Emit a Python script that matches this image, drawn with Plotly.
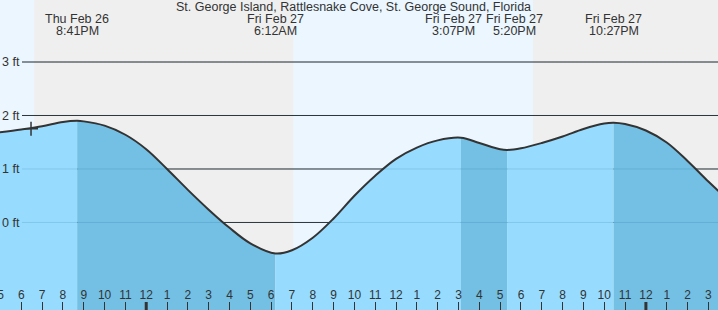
import plotly.graph_objects as go
import pandas as pd

# ---------------- data ----------------
title_text = "St. George Island, Rattlesnake Cove, St. George Sound, Florida"

tide_times = [
    "2026-02-26 16:58", "2026-02-26 18:00", "2026-02-26 19:00", "2026-02-26 20:00",
    "2026-02-26 20:41", "2026-02-26 21:00", "2026-02-26 22:00", "2026-02-26 23:00",
    "2026-02-27 00:00", "2026-02-27 01:00", "2026-02-27 02:00", "2026-02-27 03:00",
    "2026-02-27 04:00", "2026-02-27 05:00", "2026-02-27 06:12",
    "2026-02-27 07:00", "2026-02-27 08:00", "2026-02-27 09:00", "2026-02-27 10:00",
    "2026-02-27 11:00", "2026-02-27 12:00", "2026-02-27 13:00", "2026-02-27 14:00",
    "2026-02-27 15:07", "2026-02-27 16:00", "2026-02-27 17:00",
    "2026-02-27 17:20", "2026-02-27 18:00", "2026-02-27 19:00", "2026-02-27 20:00",
    "2026-02-27 21:00", "2026-02-27 22:00", "2026-02-27 22:27", "2026-02-27 23:00",
    "2026-02-28 00:00", "2026-02-28 01:00", "2026-02-28 02:00", "2026-02-28 03:00",
    "2026-02-28 03:29",
]
tide_heights = [
    1.685, 1.74, 1.80, 1.88,
    1.90, 1.89, 1.81, 1.64,
    1.37, 1.00, 0.61, 0.24,
    -0.10, -0.39, -0.58,
    -0.52, -0.286, 0.075, 0.50,
    0.875, 1.19, 1.40, 1.535,
    1.585, 1.486, 1.368,
    1.355, 1.387, 1.486, 1.607,
    1.748, 1.85, 1.865, 1.84,
    1.72, 1.495, 1.15, 0.766,
    0.59,
]

extreme_times = ["2026-02-26 20:41", "2026-02-27 06:12", "2026-02-27 15:07",
                 "2026-02-27 17:20", "2026-02-27 22:27"]
extreme_types = ["H", "L", "H", "L", "H"]
extreme_dates = ["Thu Feb 26", "Fri Feb 27", "Fri Feb 27", "Fri Feb 27", "Fri Feb 27"]
extreme_clock = ["8:41PM", "6:12AM", "3:07PM", "5:20PM", "10:27PM"]

now_time = "2026-02-26 18:28"
now_height = 1.75

sunset_times = ["2026-02-26 18:37", "2026-02-27 18:35"]
sunrise_times = ["2026-02-27 07:04", "2026-02-28 07:03"]

grid_ft = [0, 1, 2, 3]
grid_labels = ["0 ft", "1 ft", "2 ft", "3 ft"]

tick_times = list(pd.date_range("2026-02-26 17:00", "2026-02-28 03:00", freq="h"))
tick_labels = ["5", "6", "7", "8", "9", "10", "11",
               "12", "1", "2", "3", "4", "5", "6", "7", "8", "9", "10", "11",
               "12", "1", "2", "3", "4", "5", "6", "7", "8", "9", "10", "11",
               "12", "1", "2", "3"]
midnights = ["2026-02-27 00:00", "2026-02-28 00:00"]

x_range = ["2026-02-26 16:58:37", "2026-02-28 03:27:47"]
y_range = [-1.636, 4.159]

# ---------------- styles ----------------
FONT = "Liberation Sans, Arial, sans-serif"
TXT = "#333333"
DAY = "#ebf6ff"
NIGHT = "#efefef"
RISE = "#97dcfe"
FALL = "#73c0e4"
W, H = 718, 310

fig = go.Figure()

# fills between extremes
ext_idx = [tide_times.index(t) for t in extreme_times]
bounds = [0] + ext_idx + [len(tide_times) - 1]
for k in range(len(bounds) - 1):
    a, b = bounds[k], bounds[k + 1]
    if k < len(extreme_types):
        color = RISE if extreme_types[k] == "H" else FALL
    else:
        color = FALL if extreme_types[-1] == "H" else RISE
    xs = tide_times[a:b + 1]
    ys = tide_heights[a:b + 1]
    fig.add_trace(go.Scatter(x=[xs[0], xs[-1]], y=[y_range[0] - 0.2] * 2,
                             mode="lines", line=dict(width=0), hoverinfo="skip"))
    fig.add_trace(go.Scatter(x=xs, y=ys, mode="lines", fill="tonexty",
                             fillcolor=color, line=dict(width=0, shape="spline"),
                             hoverinfo="skip"))

# tide curve
fig.add_trace(go.Scatter(x=tide_times, y=tide_heights, mode="lines",
                         line=dict(color=TXT, width=2, shape="spline")))
# current time marker
fig.add_trace(go.Scatter(x=[now_time], y=[now_height], mode="markers",
                         marker=dict(symbol="cross-thin", size=10,
                                     line=dict(color=TXT, width=1.5))))
# invisible trace to carry the label axis
fig.add_trace(go.Scatter(x=[tide_times[0]], y=[grid_ft[0]], yaxis="y2", mode="markers",
                         marker=dict(opacity=0), hoverinfo="skip"))

shapes = []
for s, r in zip(sunset_times, sunrise_times):
    shapes.append(dict(type="rect", xref="x", yref="paper", x0=s, x1=r, y0=0, y1=1,
                       fillcolor=NIGHT, line=dict(width=0), layer="below"))
for g in grid_ft:
    shapes.append(dict(type="line", xref="paper", yref="y", x0=22 / W, x1=1, y0=g, y1=g,
                       line=dict(color=TXT, width=1), layer="below"))
    shapes.append(dict(type="line", xref="paper", yref="y", x0=22 / W, x1=1, y0=g, y1=g,
                       line=dict(color="rgba(0,80,130,0.14)", width=1), layer="above"))
for m in midnights:
    shapes.append(dict(type="line", xref="x", yref="paper", x0=m, x1=m, y0=0, y1=8 / H,
                       line=dict(color=TXT, width=3), layer="above"))

annotations = [dict(text=title_text, xref="paper", yref="paper", x=353 / W, y=1 - 7.5 / H,
                    xanchor="center", yanchor="middle", showarrow=False,
                    font=dict(family=FONT, size=12.5, color=TXT))]
shifts = [0, 0, -7, 7, 0]
for t, d, c, sh in zip(extreme_times, extreme_dates, extreme_clock, shifts):
    for txt, yy in ((d, 19.5), (c, 31)):
        annotations.append(dict(text=txt, xref="x", yref="paper", x=t, y=1 - yy / H,
                                xanchor="center", yanchor="middle", showarrow=False,
                                xshift=sh, font=dict(family=FONT, size=12.5, color=TXT)))

fig.update_layout(
    width=W, height=H, margin=dict(l=0, r=0, t=0, b=0, pad=0, autoexpand=False),
    paper_bgcolor=DAY, plot_bgcolor=DAY, showlegend=False,
    shapes=shapes, annotations=annotations,
    font=dict(family=FONT, color=TXT),
    xaxis=dict(type="date", range=x_range, tickvals=tick_times, ticktext=tick_labels,
               ticks="inside", ticklen=8, tickwidth=1, tickcolor=TXT,
               ticklabelposition="inside", ticklabeloverflow="allow",
               tickfont=dict(family=FONT, size=12, color=TXT), automargin=False,
               showgrid=False, zeroline=False, showline=False, fixedrange=True),
    yaxis=dict(range=y_range, showticklabels=False, ticks="", automargin=False,
               showgrid=False, zeroline=False, showline=False, fixedrange=True),
    yaxis2=dict(range=y_range, overlaying="y", side="left", anchor="free", position=0,
                tickvals=grid_ft, ticktext=grid_labels, ticks="", ticklabelstandoff=-2,
                ticklabelposition="inside", ticklabeloverflow="allow", automargin=False,
                tickfont=dict(family=FONT, size=12.5, color=TXT),
                showgrid=False, zeroline=False, showline=False, fixedrange=True),
)

fig.write_html("out.html")
